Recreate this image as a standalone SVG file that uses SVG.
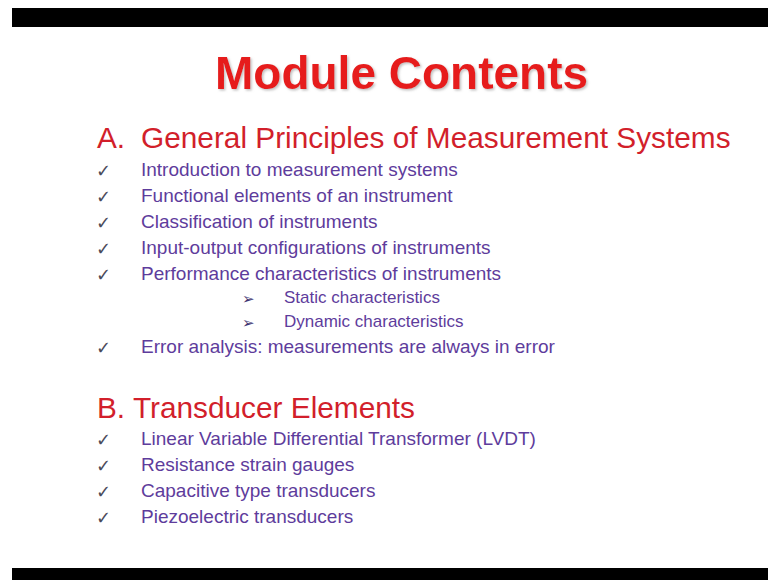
<svg xmlns="http://www.w3.org/2000/svg" width="768" height="580" viewBox="0 0 768 580">
<defs>
<filter id="sh" x="-5%" y="-20%" width="110%" height="140%">
<feDropShadow dx="1.5" dy="1.5" stdDeviation="0.8" flood-color="#999999" flood-opacity="0.6"/>
</filter>
</defs>
<style>
.title{font-family:"Liberation Sans",Arial,sans-serif;font-weight:bold;font-size:46px;fill:#e61e1e}
.head{font-family:"Liberation Sans",Arial,sans-serif;font-size:29.8px;fill:#d21f2b}
.item{font-family:"Liberation Sans",Arial,sans-serif;font-size:19px;fill:#5e3c9c}
.sub{font-family:"Liberation Sans",Arial,sans-serif;font-size:17px;fill:#5e3c9c}
.chk{font-family:"DejaVu Sans",sans-serif;font-size:18px;fill:#4a4a5a}
.arr{font-family:"DejaVu Sans",sans-serif;font-size:15px;fill:#3e3470}
</style>
<rect x="0" y="0" width="768" height="580" fill="#ffffff"/>
<rect x="12" y="8" width="756" height="19" fill="#000000"/>
<rect x="12" y="568" width="756" height="12" fill="#000000"/>
<g id="title">
<text class="title" x="215" y="89" filter="url(#sh)">Module Contents</text>
</g>
<g id="sectionA">
<text class="head" x="97" y="148">A.</text>
<text class="head" x="141" y="148">General Principles of Measurement Systems</text>
<text class="chk" x="96" y="177">✓</text><text class="item" x="141" y="176">Introduction to measurement systems</text>
<text class="chk" x="96" y="203">✓</text><text class="item" x="141" y="202">Functional elements of an instrument</text>
<text class="chk" x="96" y="229">✓</text><text class="item" x="141" y="228">Classification of instruments</text>
<text class="chk" x="96" y="255">✓</text><text class="item" x="141" y="254">Input-output configurations of instruments</text>
<text class="chk" x="96" y="281">✓</text><text class="item" x="141" y="280">Performance characteristics of instruments</text>
<text class="arr" x="242" y="304">➢</text><text class="sub" x="284" y="303">Static characteristics</text>
<text class="arr" x="242" y="328">➢</text><text class="sub" x="284" y="327">Dynamic characteristics</text>
<text class="chk" x="96" y="354">✓</text><text class="item" x="141" y="353">Error analysis: measurements are always in error</text>
</g>
<g id="sectionB">
<text class="head" x="97" y="418">B. Transducer Elements</text>
<text class="chk" x="96" y="446">✓</text><text class="item" x="141" y="445">Linear Variable Differential Transformer (LVDT)</text>
<text class="chk" x="96" y="472">✓</text><text class="item" x="141" y="471">Resistance strain gauges</text>
<text class="chk" x="96" y="498">✓</text><text class="item" x="141" y="497">Capacitive type transducers</text>
<text class="chk" x="96" y="524">✓</text><text class="item" x="141" y="523">Piezoelectric transducers</text>
</g>
</svg>
